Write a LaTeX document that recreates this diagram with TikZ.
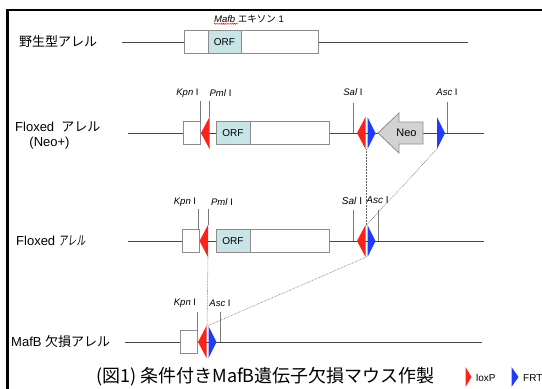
\documentclass[tikz,border=0pt]{standalone}
\usepackage{fontspec}
\setmainfont{Liberation Sans}
\newfontfamily\jp{Noto Sans CJK JP}
\newfontfamily\jpnarrow[FakeStretch=0.68,FakeSlant=0.12]{Noto Sans CJK JP}
\usetikzlibrary{decorations.pathmorphing}
\definecolor{loxred}{RGB}{250,35,25}
\definecolor{frtblue}{RGB}{30,60,250}
\definecolor{orfcol}{RGB}{200,228,230}
\definecolor{neocol}{RGB}{210,210,210}
\definecolor{dnacol}{RGB}{70,70,70}
\definecolor{boxline}{RGB}{140,140,140}
\definecolor{sitecol}{RGB}{120,120,120}
\definecolor{dotcol}{RGB}{100,100,100}
\tikzset{
  dna/.style={draw=dnacol, line width=1pt},
  exon/.style={draw=boxline, fill=white, line width=0.8pt},
  orf/.style={draw=boxline, fill=orfcol, line width=0.8pt},
  neoarrow/.style={draw=boxline, fill=neocol, line width=0.8pt},
  site/.style={draw=sitecol, line width=0.7pt},
  sitelbl/.style={font=\fontsize{9.5}{11}\selectfont, inner sep=0pt},
  rowlbl/.style={font=\fontsize{13}{15}\selectfont, anchor=west, inner sep=0pt},
  boxlbl/.style={font=\fontsize{10}{12}\selectfont, inner sep=0pt},
  dots/.style={draw=dotcol, dash pattern=on 0.6pt off 0.9pt, line width=0.55pt},
  loxL/.pic={\fill[loxred] (0,0) -- (8.5,-16) -- (8.5,16) -- cycle;},
  frtR/.pic={\fill[frtblue] (0,0) -- (-8,-16) -- (-8,16) -- cycle;},
}
\begin{document}
\begin{tikzpicture}[x=1pt,y=-1pt]
\useasboundingbox (0,0) rectangle (542,389);
% frame
\draw[line width=2.6pt, black] (7.5,395) -- (7.5,10) -- (548,10);

% ---------- Row 1: wild type ----------
\node[rowlbl] (r1) at (19,42) {\jp 野生型アレル};
\draw[dna] (122,42) -- (468,42);
\draw[exon] (184,30.5) rectangle (318,53.5);
\draw[orf] (208,30.5) rectangle (241,53.5);
\node[boxlbl] (orf1) at (224.5,42) {ORF};
\node[sitelbl] (exlbl) at (249,18.5) {\textit{Mafb} {\jp エキソン} 1};
\draw[red, line width=0.4pt, decorate, decoration={snake, amplitude=0.6pt, segment length=2.2pt}] (214,23.8) -- (238,23.8);

% ---------- Row 2: floxed Neo+ ----------
\node[rowlbl] (r2a) at (15,127) {Floxed\ \ {\jp アレル}};
\node[font=\fontsize{13}{15}\selectfont, inner sep=0pt] (r2b) at (49.5,143.5) {(Neo+)};
\draw[dna] (128,133) -- (484,133);
\draw[exon] (183,121.5) rectangle (200,144.5);
\draw[exon] (216,121.5) rectangle (329,144.5);
\draw[orf] (216,121.5) rectangle (250,144.5);
\node[boxlbl] (orf2) at (233,133) {ORF};
\draw[neoarrow] (378,133) -- (399,113) -- (399,122) -- (423,122) -- (423,144) -- (399,144) -- (399,153) -- cycle;
\node[font=\fontsize{11}{13}\selectfont, inner sep=0pt] (neo) at (406.5,133) {Neo};
\pic at (201,133) {loxL};
\pic at (357,133) {loxL};
\pic at (375.5,133) {frtR};
\pic at (445,133) {frtR};
\draw[site] (200,101) -- (200,121.5);
\draw[site] (209.5,101) -- (209.5,117);
\draw[site] (353,103) -- (353,133);
\draw[site] (447.5,102) -- (447.5,133);
\node[sitelbl] (k2) at (187.5,93) {\textit{Kpn} I};
\node[sitelbl] (p2) at (220.5,93) {\textit{Pml} I};
\node[sitelbl] (s2) at (353,92) {\textit{Sal} I};
\node[sitelbl] (a2) at (447,92) {\textit{Asc} I};
\coordinate (r2sal) at (366.5,149);
\coordinate (r2asc) at (437,149);

% ---------- Row 3: floxed ----------
\node[rowlbl] (r3) at (16,241) {Floxed {\jpnarrow アレル}};
\draw[dna] (128,241) -- (484,241);
\draw[exon] (182,229.5) rectangle (199,252.5);
\draw[exon] (216,229.5) rectangle (329,252.5);
\draw[orf] (216,229.5) rectangle (250,252.5);
\node[boxlbl] (orf3) at (233,241) {ORF};
\pic at (199.5,241) {loxL};
\pic at (357,241) {loxL};
\pic at (375.5,241) {frtR};
\draw[site] (198.5,209) -- (198.5,229.5);
\draw[site] (208,209) -- (208,225);
\draw[site] (353,210) -- (353,241);
\draw[site] (378.5,210) -- (378.5,241);
\node[sitelbl] (k3) at (185,202) {\textit{Kpn} I};
\node[sitelbl] (p3) at (222,202) {\textit{Pml} I};
\node[sitelbl, font=\fontsize{10}{12}\selectfont] (s3) at (352,200.5) {\textit{Sal} I};
\node[sitelbl, font=\fontsize{10}{12}\selectfont] (a3) at (377.5,200.5) {\textit{Asc} I};
\coordinate (r3top) at (366.5,225);
\coordinate (r3bot) at (366.5,257);
\coordinate (r3pml) at (208,257);

% ---------- Row 4: deleted ----------
\node[rowlbl] (r4) at (11,341.5) {MafB {\jp 欠損アレル}};
\draw[dna] (125,342) -- (482,342);
\draw[exon] (180,330.5) rectangle (197,353.5);
\pic at (198,342) {loxL};
\pic at (216.5,342) {frtR};
\draw[site] (197,312) -- (197,330.5);
\draw[site] (220,312) -- (220,342);
\node[sitelbl] (k4) at (185,303.5) {\textit{Kpn} I};
\node[sitelbl] (a4) at (220,303.5) {\textit{Asc} I};
\coordinate (r4top) at (207,326);

% ---------- dotted correspondences ----------
\draw[dots] (r2sal) -- (r3top);
\draw[dots] (r2asc) -- (r3top);
\draw[dots] (r3bot) -- (r4top);
\draw[dots] (r3pml) -- (r4top);

% ---------- caption and legend ----------
\node[font=\jp\fontsize{18}{20}\selectfont, anchor=west, inner sep=0pt] (cap) at (96,377) {(図1) 条件付きMafB遺伝子欠損マウス作製};
\fill[loxred] (465.5,367) -- (471.5,377) -- (465.5,387) -- cycle;
\node[font=\fontsize{10}{12}\selectfont, anchor=west, inner sep=0pt] (lox) at (476,378) {loxP};
\fill[frtblue] (511.5,367) -- (518.5,377) -- (511.5,387) -- cycle;
\node[font=\fontsize{10}{12}\selectfont, anchor=west, inner sep=0pt] (frt) at (523,378) {FRT};
\end{tikzpicture}
\end{document}
